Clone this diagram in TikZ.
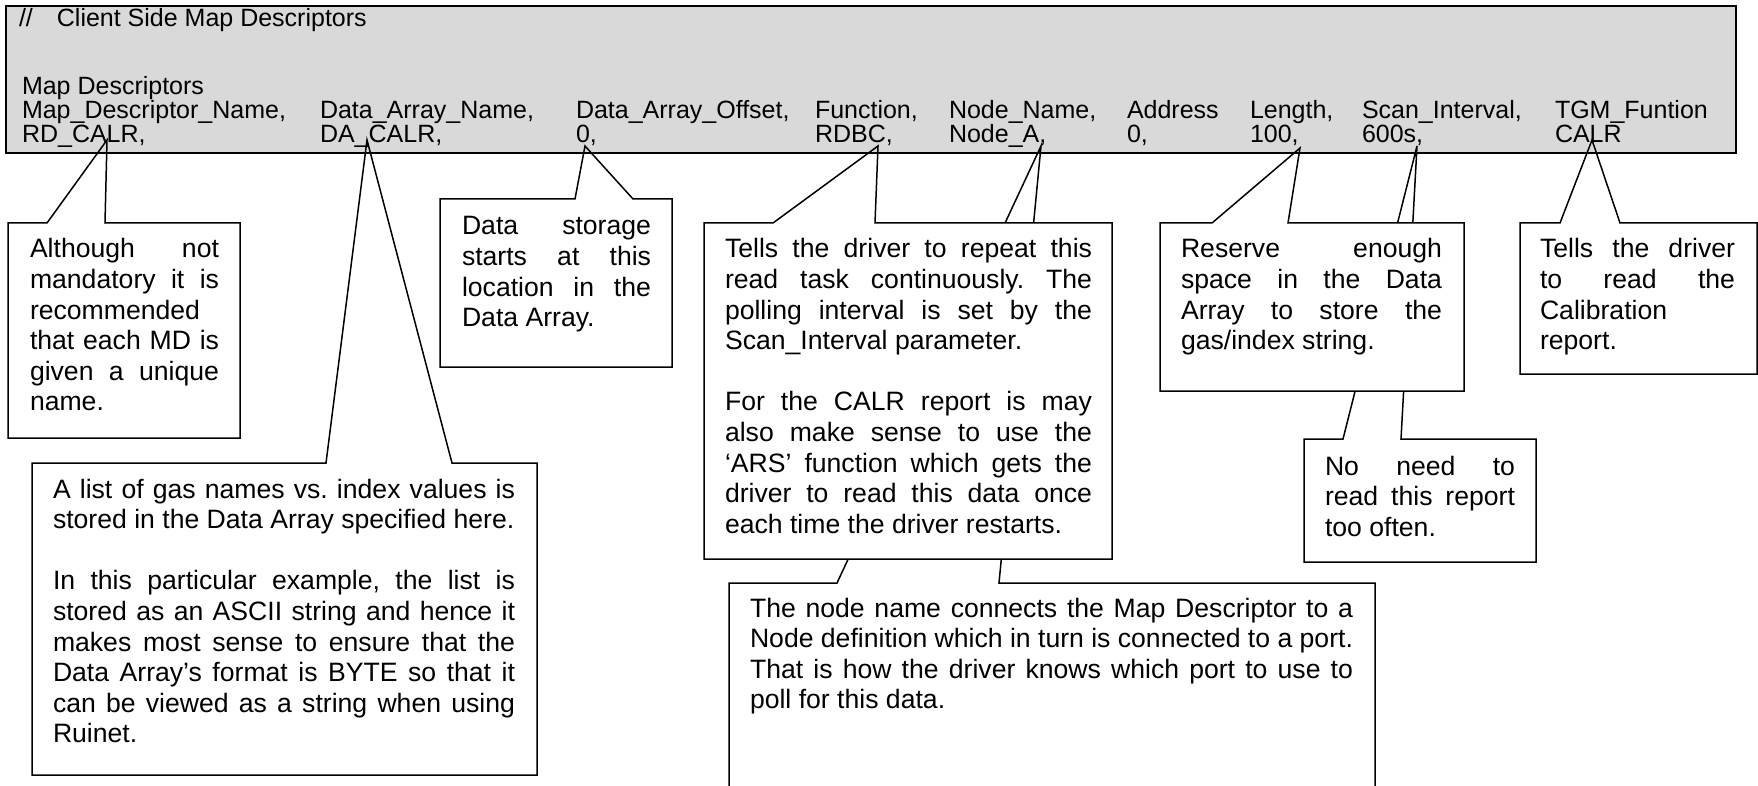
\documentclass[tikz,border=0pt]{standalone}
\usepackage{fontspec}
\setmainfont{Liberation Sans}
\usetikzlibrary{calc}
\definecolor{hdrgray}{RGB}{217,217,217}
\frenchspacing
\hyphenpenalty=10000
\tolerance=10000
\hbadness=10000

\begin{document}
\begin{tikzpicture}[
    x=1pt, y=-1pt,
    every node/.style={inner sep=0pt, outer sep=0pt},
    head/.style={font=\fontsize{25}{24}\selectfont, anchor=base west},
    boxfill/.style={fill=white, anchor=north west},
    note/.style={font=\fontsize{26.6}{30.6}\selectfont, align=justify, anchor=base west},
    leader/.style={draw=black, line width=1.5pt}]

\useasboundingbox (0,0) rectangle (1758,786);

% Header block
\node[draw, fill=hdrgray, line width=2.5pt, anchor=north west, minimum width=1730pt, minimum height=147pt] (header) at (6,6) {};
\node[head] (title) at (19,27) {//\hspace{24pt}Client Side Map Descriptors};
\node[head] (mdLabel) at (22,95) {Map Descriptors};

\node[head] (colName) at (22,119) {Map\_Descriptor\_Name,};
\node[head] (colArray) at (320,119) {Data\_Array\_Name,};
\node[head] (colOffset) at (576,119) {Data\_Array\_Offset,};
\node[head] (colFunc) at (815,119) {Function,};
\node[head] (colNode) at (949,119) {Node\_Name,};
\node[head] (colAddr) at (1127,119) {Address};
\node[head] (colLength) at (1250,119) {Length,};
\node[head] (colScan) at (1362,119) {Scan\_Interval,};
\node[head] (colTgm) at (1555,119) {TGM\_Funtion};

\node[head] (valName) at (22,143) {RD\_CALR,};
\node[head] (valArray) at (320,143) {DA\_CALR,};
\node[head] (valOffset) at (576,143) {0,};
\node[head] (valFunc) at (815,143) {RDBC,};
\node[head] (valNode) at (949,143) {Node\_A,};
\node[head] (valAddr) at (1127,143) {0,};
\node[head] (valLength) at (1250,143) {100,};
\node[head] (valScan) at (1362,143) {600s,};
\node[head] (valTgm) at (1555,143) {CALR};

% Tips of the callouts
\coordinate (nameTip) at (107,140);
\coordinate (arrayTip) at (367,140);
\coordinate (offsetTip) at (585,146);
\coordinate (funcTip) at (878,146);
\coordinate (nodeTip) at (1041,146);
\coordinate (lengthTip) at (1300,148);
\coordinate (scanTip) at (1417,146);
\coordinate (tgmTip) at (1592,140);

% Node name callout, its leader runs behind the function callout
\node[boxfill, minimum width=646pt, minimum height=230pt] (nodeBox) at (729,583) {};
\draw[leader] ($(nodeBox.north west)+(108,0)$) -- (nodeTip) -- ($(nodeBox.north west)+(270,0)$) -- (nodeBox.north east) -- (nodeBox.south east) -- (nodeBox.south west) -- (nodeBox.north west) -- cycle;
\node[note, text width=603pt] (nodeNote) at ($(nodeBox.north west)+(21,34)$) {The node name connects the Map Descriptor to a\linebreak Node definition which in turn is connected to a port.\linebreak That is how the driver knows which port to use to\linebreak poll for this data.};

% Function callout
\node[boxfill, minimum width=408pt, minimum height=336pt] (funcBox) at (704,223) {};
\draw[leader] ($(funcBox.north west)+(69,0)$) -- (funcTip) -- ($(funcBox.north west)+(171,0)$) -- (funcBox.north east) -- (funcBox.south east) -- (funcBox.south west) -- (funcBox.north west) -- cycle;
\node[note, text width=367pt] (funcNote) at ($(funcBox.north west)+(21,35)$) {Tells the driver to repeat this\linebreak read task continuously. The\linebreak polling interval is set by the\linebreak Scan\_Interval parameter.\par\vspace{30.6pt}For the CALR report is may\linebreak also make sense to use the\linebreak `ARS' function which gets the\linebreak driver to read this data once\linebreak each time the driver restarts.};

% Scan interval callout, its leader runs behind the length callout
\node[boxfill, minimum width=232pt, minimum height=123pt] (scanBox) at (1304,439) {};
\draw[leader] ($(scanBox.north west)+(39,0)$) -- (scanTip) -- ($(scanBox.north west)+(97,0)$) -- (scanBox.north east) -- (scanBox.south east) -- (scanBox.south west) -- (scanBox.north west) -- cycle;
\node[note, text width=190pt] (scanNote) at ($(scanBox.north west)+(21,36)$) {No need to\linebreak read this report\linebreak too often.};

% Length callout
\node[boxfill, minimum width=304pt, minimum height=168pt] (lengthBox) at (1160,223) {};
\draw[leader] ($(lengthBox.north west)+(52,0)$) -- (lengthTip) -- ($(lengthBox.north west)+(128,0)$) -- (lengthBox.north east) -- (lengthBox.south east) -- (lengthBox.south west) -- (lengthBox.north west) -- cycle;
\node[note, text width=261pt] (lengthNote) at ($(lengthBox.north west)+(21,35)$) {Reserve enough\linebreak space in the Data\linebreak Array to store the\linebreak gas/index string.};

% Map descriptor name callout
\node[boxfill, minimum width=232pt, minimum height=215pt] (nameBox) at (8,223) {};
\draw[leader] ($(nameBox.north west)+(39,0)$) -- (nameTip) -- ($(nameBox.north west)+(97,0)$) -- (nameBox.north east) -- (nameBox.south east) -- (nameBox.south west) -- (nameBox.north west) -- cycle;
\node[note, text width=189pt] (nameNote) at ($(nameBox.north west)+(22,35)$) {Although not\linebreak mandatory it is\linebreak recommended\linebreak that each MD is\linebreak given a unique\linebreak name.};

% Data array callout
\node[boxfill, minimum width=505pt, minimum height=312pt] (arrayBox) at (32,463) {};
\draw[leader] ($(arrayBox.north west)+(294,0)$) -- (arrayTip) -- ($(arrayBox.north west)+(420,0)$) -- (arrayBox.north east) -- (arrayBox.south east) -- (arrayBox.south west) -- (arrayBox.north west) -- cycle;
\node[note, text width=462pt] (arrayNote) at ($(arrayBox.north west)+(21,35)$) {A list of gas names vs. index values is\linebreak stored in the Data Array specified here.\par\vspace{30.6pt}In this particular example, the list is\linebreak stored as an ASCII string and hence it\linebreak makes most sense to ensure that the\linebreak Data Array's format is BYTE so that it\linebreak can be viewed as a string when using\linebreak Ruinet.};

% Data array offset callout
\node[boxfill, minimum width=232pt, minimum height=168pt] (offsetBox) at (440,199) {};
\draw[leader] ($(offsetBox.north west)+(135,0)$) -- (offsetTip) -- ($(offsetBox.north west)+(193,0)$) -- (offsetBox.north east) -- (offsetBox.south east) -- (offsetBox.south west) -- (offsetBox.north west) -- cycle;
\node[note, text width=189pt] (offsetNote) at ($(offsetBox.north west)+(22,36)$) {Data storage\linebreak starts at this\linebreak location in the\linebreak Data Array.};

% TGM function callout
\node[boxfill, minimum width=237pt, minimum height=151pt] (tgmBox) at (1520,223) {};
\draw[leader] ($(tgmBox.north west)+(40,0)$) -- (tgmTip) -- ($(tgmBox.north west)+(100,0)$) -- (tgmBox.north east) -- (tgmBox.south east) -- (tgmBox.south west) -- (tgmBox.north west) -- cycle;
\node[note, text width=195pt] (tgmNote) at ($(tgmBox.north west)+(20,35)$) {Tells the driver\linebreak to read the\linebreak Calibration\linebreak report.};
\end{tikzpicture}
\end{document}
